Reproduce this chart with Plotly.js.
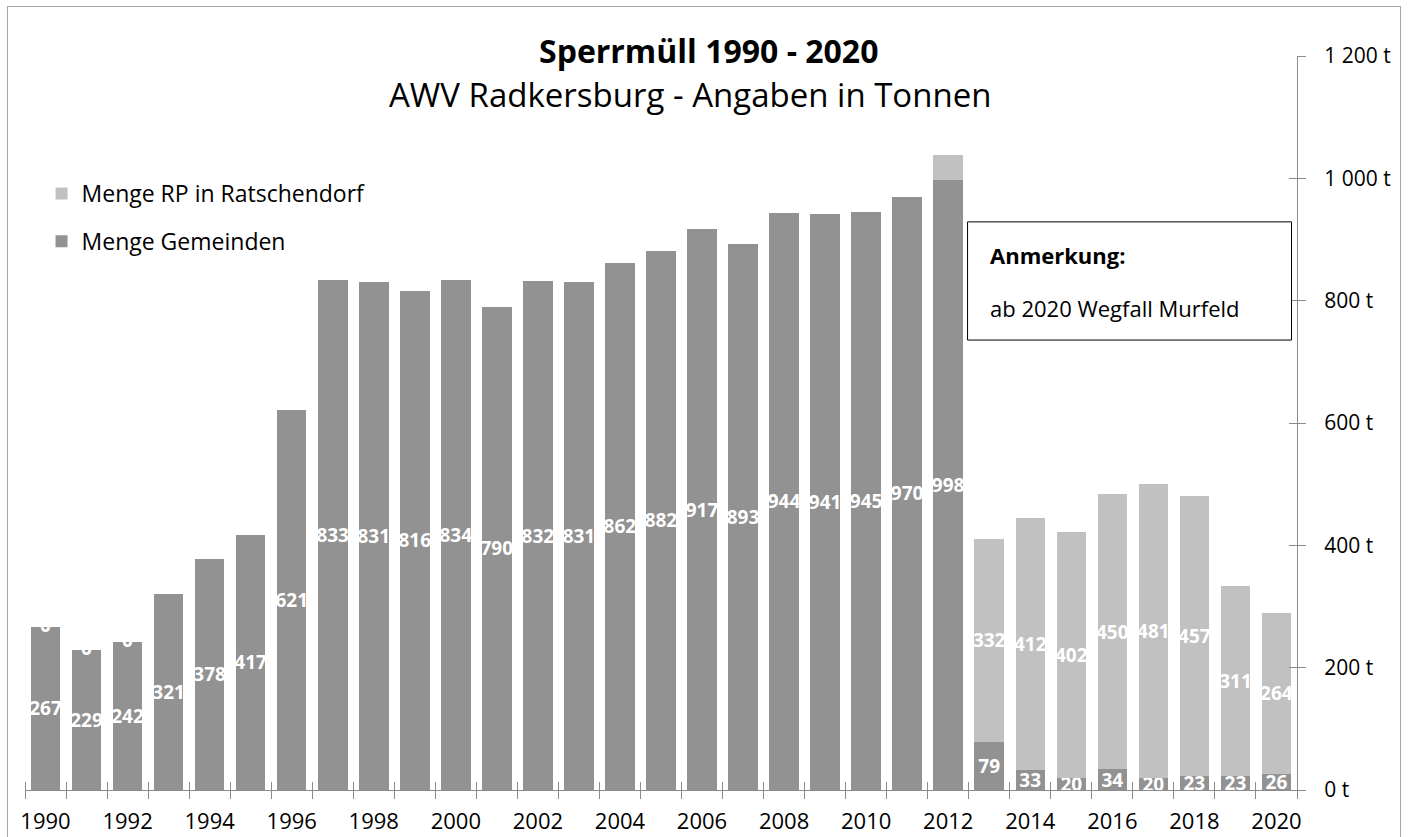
<!DOCTYPE html>
<html>
<head>
<meta charset="utf-8">
<script src="https://cdn.plot.ly/plotly-3.0.1.min.js"></script>
<style>
  html, body { margin: 0; padding: 0; background: #fff; }
  #chart { width: 1416px; height: 837px; }
  #frame { position: absolute; left: 7px; top: 6px; width: 1394px; height: 840px;
           border: 1.5px solid #a6a6a6; pointer-events: none; box-sizing: border-box; }
</style>
</head>
<body>
<div id="chart"></div>
<div id="frame"></div>
<script>
const years = [1990,1991,1992,1993,1994,1995,1996,1997,1998,1999,2000,2001,2002,2003,2004,2005,
               2006,2007,2008,2009,2010,2011,2012,2013,2014,2015,2016,2017,2018,2019,2020];
const gemeinden = [267,229,242,321,378,417,621,833,831,816,834,790,832,831,862,882,
                   917,893,944,941,945,970,998,79,33,20,34,20,23,23,26];
const rpRatschendorf = [0,0,0,null,null,null,null,null,null,null,null,null,null,null,null,null,
                        null,null,null,null,null,null,40,332,412,402,450,481,457,311,264];
const rpLabels = ['0','0','0','','','','','','','','','','','','','',
                  '','','','','','','','332','412','402','450','481','457','311','264'];
const seriesNames = ['Menge Gemeinden', 'Menge RP in Ratschendorf'];
const titleText = 'Sperrmüll 1990 - 2020';
const subtitleText = 'AWV Radkersburg - Angaben in Tonnen';
const noteTitle = 'Anmerkung:';
const noteText = 'ab 2020 Wegfall Murfeld';

const FONT = 'Open Sans, Lato, sans-serif';
const labelFont = {family: FONT, size: 19, color: '#ffffff', weight: 'bold'};

const traceG = {
  type: 'bar', name: seriesNames[0], x: years, y: gemeinden,
  text: gemeinden.map(String), textposition: 'inside', insidetextanchor: 'middle',
  textangle: 0, constraintext: 'none', insidetextfont: labelFont,
  marker: {color: '#929292', line: {width: 0}},
  legendgroup: 'g', legendrank: 2, hoverinfo: 'x+y'
};
const traceR = {
  type: 'bar', name: seriesNames[1], x: years, y: rpRatschendorf,
  text: rpRatschendorf.map((v, i) => (v > 0 ? rpLabels[i] : '')),
  textposition: 'inside', insidetextanchor: 'middle',
  textangle: 0, constraintext: 'none', insidetextfont: labelFont,
  marker: {color: '#c1c1c1', line: {width: 0}},
  legendgroup: 'r', legendrank: 1, hoverinfo: 'x+y'
};
const dummy = {type: 'scatter', x: [], y: [], xaxis: 'x2', yaxis: 'y2', showlegend: false, hoverinfo: 'skip'};

// zero labels at top of stack
const zeroAnn = [];
years.forEach((yr, i) => {
  if (rpRatschendorf[i] === 0 && rpLabels[i] !== '') {
    zeroAnn.push({x: yr, y: gemeinden[i], xref: 'x', yref: 'y', text: rpLabels[i],
      showarrow: false, yanchor: 'middle', yshift: 2, font: labelFont});
  }
});

const axisColor = '#8c8c8c';
const layout = {
  width: 1416, height: 837,
  margin: {l: 25, r: 119, t: 56, b: 47},
  paper_bgcolor: '#ffffff', plot_bgcolor: '#ffffff',
  barmode: 'stack', bargap: 0.28,
  separators: ', ',
  showlegend: true,
  legend: {x: 0.013, y: 0.842, xanchor: 'left', yanchor: 'top', traceorder: 'grouped',
           font: {family: FONT, size: 23, color: '#000'}, bgcolor: 'rgba(0,0,0,0)',
           itemwidth: 30, tracegroupgap: 15},
  xaxis: {
    range: [1989.5, 2020.5], tick0: 1990, dtick: 2, ticks: '', showgrid: false, zeroline: false,
    showline: true, linecolor: axisColor, linewidth: 1,
    tickfont: {family: FONT, size: 22, color: '#000'}, ticklabelstandoff: 12,
    minor: {ticks: 'outside', tick0: 1989.5, dtick: 1, ticklen: 8, tickcolor: axisColor, showgrid: false}
  },
  yaxis: {
    range: [0, 1200], dtick: 200, side: 'right', ticks: 'outside', ticklen: 8, tickcolor: axisColor,
    showgrid: false, zeroline: false, showline: true, linecolor: axisColor, linewidth: 1,
    ticksuffix: ' t', tickformat: ',d', ticklabelstandoff: 14,
    tickfont: {family: FONT, size: 21, color: '#000'}
  },
  xaxis2: {overlaying: 'x', matches: 'x', range: [1989.5, 2020.5], showticklabels: false, ticks: '',
           showgrid: false, zeroline: false, showline: false, tick0: 1990, dtick: 2,
           minor: {ticks: 'inside', tick0: 1989.5, dtick: 1, ticklen: 8, tickcolor: axisColor, showgrid: false}},
  yaxis2: {overlaying: 'y', side: 'right', range: [0, 1200], dtick: 200, ticks: 'inside', ticklen: 8,
           tickcolor: axisColor, showticklabels: false, showgrid: false, zeroline: false, showline: false},
  shapes: [
    {type: 'rect', xref: 'paper', yref: 'paper', x0: 0.741, x1: 0.9957, y0: 0.613, y1: 0.774,
     line: {color: '#000', width: 1}, fillcolor: '#ffffff', layer: 'above'}
  ],
  annotations: [
    {xref: 'paper', yref: 'paper', x: 0.537, y: 1.008, text: '<b>' + titleText + '</b>', showarrow: false,
     xanchor: 'center', yanchor: 'middle', font: {family: FONT, size: 32, color: '#000'}},
    {xref: 'paper', yref: 'paper', x: 0.523, y: 0.947, text: subtitleText, showarrow: false,
     xanchor: 'center', yanchor: 'middle', font: {family: FONT, size: 33, color: '#000'}},
    {xref: 'paper', yref: 'paper', x: 0.757, y: 0.729, text: '<b>' + noteTitle + '</b>', showarrow: false,
     xanchor: 'left', yanchor: 'middle', font: {family: FONT, size: 22, color: '#000'}},
    {xref: 'paper', yref: 'paper', x: 0.757, y: 0.657, text: noteText, showarrow: false,
     xanchor: 'left', yanchor: 'middle', font: {family: FONT, size: 22, color: '#000'}}
  ].concat(zeroAnn)
};

Plotly.newPlot('chart', [traceG, traceR, dummy], layout, {displayModeBar: false, staticPlot: true});
</script>
</body>
</html>
